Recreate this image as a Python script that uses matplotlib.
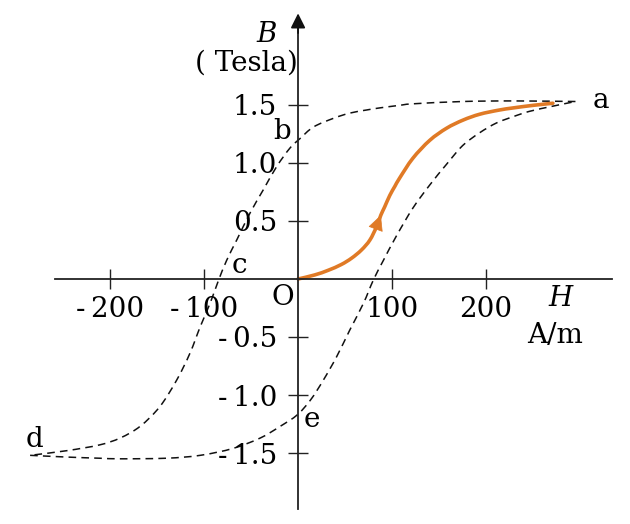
import matplotlib
matplotlib.use("Agg")
import matplotlib.pyplot as plt
from matplotlib.patches import FancyArrowPatch, PathPatch
from matplotlib.path import Path

# ---- data ----
# initial magnetisation curve O -> a
init_H = [0, 17.7, 32, 46, 57, 67.4, 76.3, 83.4, 88, 92, 97.5, 103, 108,
          122, 140, 158, 175.5, 193, 213, 229, 250, 271]
init_B = [0, 0.035, 0.075, 0.125, 0.18, 0.25, 0.335, 0.45, 0.55, 0.62, 0.72, 0.80, 0.87,
          1.04, 1.195, 1.30, 1.37, 1.42, 1.455, 1.475, 1.497, 1.515]

# descending branch a -> b -> c -> d
down_H = [295, 229, 175, 122, 108, 87, 73, 55, 37.6, 16.3, 2, -8.5, -22.7, -36.9, -51, -65,
          -76, -85, -93.6, -104, -115, -129, -147, -168, -189, -211, -246, -285]
down_B = [1.53, 1.535, 1.53, 1.51, 1.497, 1.475, 1.457, 1.43, 1.385, 1.31, 1.21, 1.13, 0.97, 0.77, 0.57, 0.34,
          0.16, -0.02, -0.21, -0.41, -0.64, -0.87, -1.10, -1.27, -1.37, -1.43, -1.48, -1.52]

# ascending branch d -> e -> a
up_H = [-285, -246, -211, -189, -140, -104, -69, -40, -19, -0.7, 13.5, 27, 41, 55, 69.5,
        80, 90.7, 104.5, 122, 140, 158, 175, 193, 211, 229, 246, 271, 295]
up_B = [-1.52, -1.535, -1.545, -1.55, -1.545, -1.52, -1.46, -1.37, -1.27, -1.17, -1.04, -0.87, -0.67, -0.44, -0.21,
        -0.01, 0.16, 0.37, 0.61, 0.81, 0.99, 1.15, 1.26, 1.345, 1.40, 1.445, 1.49, 1.53]

x_ticks = [-200, -100, 100, 200]
x_ticklabels = ["-\u2009200", "-\u2009100", "100", "200"]
y_ticks = [-1.5, -1.0, -0.5, 0.5, 1.0, 1.5]
y_ticklabels = ["-\u20091.5", "-\u20091.0", "-\u20090.5", "0.5", "1.0", "1.5"]

point_labels = ["a", "b", "c", "d", "e"]
point_pos = [(322, 1.54), (-17, 1.27), (-62, 0.12), (-280, -1.38), (15, -1.21)]

ORANGE = "#E07A26"
FONT = "DejaVu Serif"
FS = 20


def smooth_path(xs, ys):
    """Catmull-Rom curve through the given points, as cubic Bezier segments."""
    pts = list(zip(xs, ys))
    n = len(pts)
    verts = [pts[0]]
    codes = [Path.MOVETO]
    for i in range(n - 1):
        p0 = pts[i - 1] if i > 0 else pts[i]
        p1 = pts[i]
        p2 = pts[i + 1]
        p3 = pts[i + 2] if i + 2 < n else pts[i + 1]
        c1 = (p1[0] + (p2[0] - p0[0]) / 6, p1[1] + (p2[1] - p0[1]) / 6)
        c2 = (p2[0] - (p3[0] - p1[0]) / 6, p2[1] - (p3[1] - p1[1]) / 6)
        verts += [c1, c2, p2]
        codes += [Path.CURVE4] * 3
    return Path(verts, codes)


fig = plt.figure(figsize=(6.30, 5.24), dpi=100)
ax = fig.add_axes([0, 0, 1, 1])
ax.set_xlim(-317, 353)
ax.set_ylim(-2.112, 2.405)

# axes through origin
for s in ["top", "right"]:
    ax.spines[s].set_visible(False)
ax.spines["left"].set_position("zero")
ax.spines["bottom"].set_position("zero")
ax.spines["left"].set_bounds(-1.98, 2.2)
ax.spines["bottom"].set_bounds(-258, 334)
for s in ["left", "bottom"]:
    ax.spines[s].set_linewidth(1.3)
    ax.spines[s].set_color("#222222")

ax.set_xticks(x_ticks)
ax.set_xticklabels(x_ticklabels, fontfamily=FONT, fontsize=FS)
ax.set_yticks(y_ticks)
ax.set_yticklabels(y_ticklabels, fontfamily=FONT, fontsize=FS)
ax.tick_params(axis="both", direction="inout", length=15, width=1.0, color="#222222")
ax.tick_params(axis="x", pad=5)
ax.tick_params(axis="y", pad=7.5)

# arrow head on the B axis
ax.annotate("", xy=(0, 2.29), xytext=(0, 2.12),
            arrowprops=dict(arrowstyle="-|>", color="#111111", lw=1.3,
                            mutation_scale=22, shrinkA=0, shrinkB=0))

# hysteresis loop (dashed)
for hs, bs in [(down_H, down_B), (up_H, up_B)]:
    ax.add_patch(PathPatch(smooth_path(hs, bs), fill=False, edgecolor="#111111",
                           lw=1.1, linestyle=(0, (5, 3.4))))

# initial curve
ax.add_patch(PathPatch(smooth_path(init_H, init_B), fill=False, edgecolor=ORANGE,
                       lw=2.6, capstyle="round"))
i = init_B.index(0.55)
ax.add_patch(FancyArrowPatch((init_H[i - 1], init_B[i - 1]), (init_H[i], init_B[i]),
                             arrowstyle="-|>", mutation_scale=25, color=ORANGE,
                             lw=0.5, shrinkA=0, shrinkB=0))

# point labels
for lab, (hx, by) in zip(point_labels, point_pos):
    ax.text(hx, by, lab, fontfamily=FONT, fontsize=FS, ha="center", va="center")

ax.text(-16.5, -0.16, "O", fontfamily=FONT, fontsize=FS, ha="center", va="center")
ax.text(279, -0.17, "H", fontfamily=FONT, fontsize=FS, style="italic", ha="center", va="center")
ax.text(273, -0.49, "A/m", fontfamily=FONT, fontsize=FS, ha="center", va="center")
ax.text(-33, 2.11, "B", fontfamily=FONT, fontsize=FS, style="italic", ha="center", va="center")
ax.text(-55, 1.86, "( Tesla)", fontfamily=FONT, fontsize=FS, ha="center", va="center")

fig.savefig("out.png", dpi=100)
